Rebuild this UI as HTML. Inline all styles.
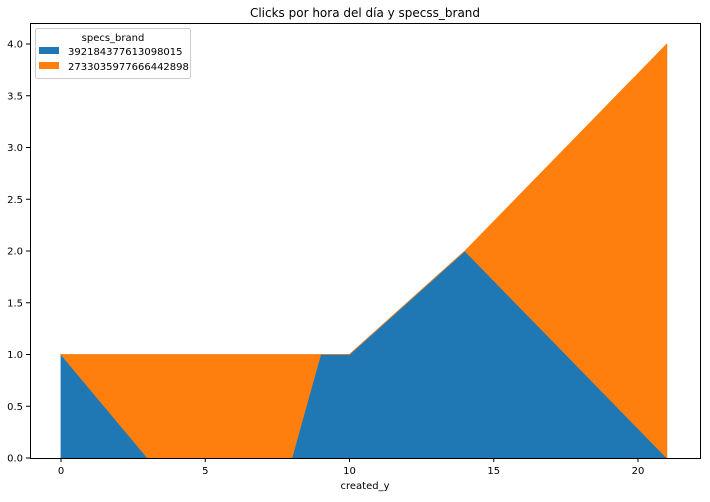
<!DOCTYPE html>
<html><head><meta charset="utf-8"><style>
body{margin:0;background:#fff;font-family:"Liberation Sans","DejaVu Sans",sans-serif}
</style></head><body>
<svg width="710" height="497" xmlns="http://www.w3.org/2000/svg" font-family="DejaVu Sans, Liberation Sans, sans-serif">
<text x="365" y="17" text-anchor="middle" font-size="12">Clicks por hora del día y specss_brand</text>
<g id="plot"></g>
<rect x="30.5" y="23.5" width="670" height="435" fill="none" stroke="#000" stroke-width="1"/>
<g id="ticks" font-size="10"></g>
<text x="365" y="489" text-anchor="middle" font-size="10">created_y</text>
<g>
<rect x="35.5" y="28.5" width="155" height="50" rx="2" fill="#fff" fill-opacity="0.8" stroke="#ccc"/>
<text x="113" y="41" text-anchor="middle" font-size="10">specs_brand</text>
<rect x="39" y="47" width="20" height="7" fill="#1f77b4"/>
<text x="68" y="55" font-size="10">392184377613098015</text>
<rect x="39" y="62" width="20" height="7" fill="#ff7f0e"/>
<text x="68" y="70" font-size="10">2733035977666442898</text>
</g>
</svg>
<script>
const hours=[0,3,8,9,10,14,21];
const brandA=[1,0,0,1,1,2,0];
const brandB=[0,1,1,0,0,0,4];
const xTicks=[0,5,10,15,20];
const yTicks=[0,0.5,1,1.5,2,2.5,3,3.5,4];
const NS="http://www.w3.org/2000/svg";
const xs=v=>61+v*(638-61)/20;
const ys=v=>458-v*(458-44)/4;
const plot=document.getElementById('plot');
function area(lo,hi,color,name){
  let d="M"+hours.map((h,i)=>xs(h)+","+ys(hi[i])).join("L");
  for(let i=hours.length-1;i>=0;i--)d+="L"+xs(hours[i])+","+ys(lo[i]);
  const p=document.createElementNS(NS,'path');
  p.setAttribute('d',d+"Z");p.setAttribute('fill',color);p.setAttribute('stroke',color);p.setAttribute('stroke-width','0.8');
  
  
  plot.appendChild(p);
}
const zeroBase=hours.map(()=>0);
const stackTop=brandA.map((v,i)=>v+brandB[i]);
area(zeroBase,brandA,'#1f77b4','area-brand-a');
area(brandA,stackTop,'#ff7f0e','area-brand-b');
const t=document.getElementById('ticks');
xTicks.forEach(v=>{
  const l=document.createElementNS(NS,'line');
  l.setAttribute('x1',xs(v));l.setAttribute('x2',xs(v));l.setAttribute('y1',458);l.setAttribute('y2',462);l.setAttribute('stroke','#000');
  
  
  t.appendChild(l);
  const s=document.createElementNS(NS,'text');
  s.setAttribute('x',xs(v));s.setAttribute('y',474);s.setAttribute('text-anchor','middle');s.textContent=v;
  
  
  t.appendChild(s);
});
yTicks.forEach(v=>{
  const l=document.createElementNS(NS,'line');
  l.setAttribute('x1',26);l.setAttribute('x2',30);l.setAttribute('y1',ys(v));l.setAttribute('y2',ys(v));l.setAttribute('stroke','#000');
  
  
  t.appendChild(l);
  const s=document.createElementNS(NS,'text');
  s.setAttribute('x',23);s.setAttribute('y',ys(v)+3.5);s.setAttribute('text-anchor','end');s.textContent=v.toFixed(1);
  
  
  t.appendChild(s);
});
</script>
</body></html>
